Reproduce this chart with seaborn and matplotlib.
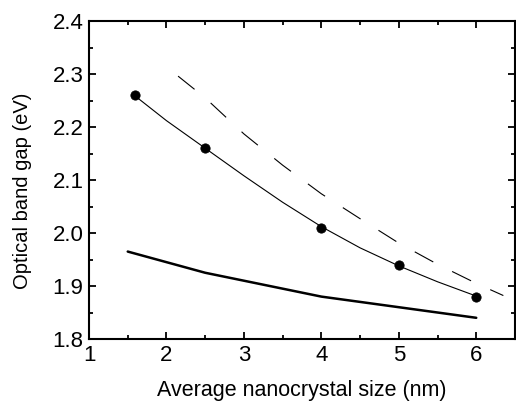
import matplotlib
matplotlib.use("Agg")
import matplotlib.pyplot as plt
import seaborn as sns
from matplotlib.ticker import MultipleLocator

# Measured data points
size_pts = [1.6, 2.5, 4.0, 5.0, 6.0]
gap_pts = [2.26, 2.16, 2.01, 1.94, 1.88]

# Thin fit curve through the data
fit_x = [1.6, 2.0, 2.5, 3.0, 3.5, 4.0, 4.5, 5.0, 5.5, 6.0]
fit_y = [2.258, 2.212, 2.160, 2.108, 2.058, 2.012, 1.972, 1.938, 1.908, 1.881]

# Dashed theoretical curve
dash_x = [2.15, 2.5, 3.0, 3.5, 4.0, 4.5, 5.0, 5.5, 6.0, 6.35]
dash_y = [2.296, 2.255, 2.187, 2.128, 2.074, 2.027, 1.981, 1.941, 1.905, 1.882]

# Thick theoretical curve
thick_x = [1.5, 2.0, 2.5, 3.0, 3.5, 4.0, 4.5, 5.0, 5.5, 6.0]
thick_y = [1.965, 1.945, 1.925, 1.91, 1.895, 1.88, 1.87, 1.86, 1.85, 1.84]

sns.set_style("ticks")
plt.rcParams['font.family'] = ['Liberation Sans', 'DejaVu Sans']
plt.rcParams.update({'text.color': 'black', 'axes.labelcolor': 'black',
                     'xtick.color': 'black', 'ytick.color': 'black',
                     'axes.edgecolor': 'black'})

fig = plt.figure(figsize=(5.16, 4.01), dpi=100)
ax = fig.add_axes([0.1725, 0.1546, 0.8255, 0.793])

sns.lineplot(x=fit_x, y=fit_y, ax=ax, color='black', lw=0.8)
sns.lineplot(x=dash_x, y=dash_y, ax=ax, color='black', lw=0.8)
ax.lines[-1].set_dashes([19, 19])
sns.lineplot(x=thick_x, y=thick_y, ax=ax, color='black', lw=1.8)
sns.scatterplot(x=size_pts, y=gap_pts, ax=ax, color='black', s=45, edgecolor='black', zorder=5)

ax.set_xlim(1, 6.5)
ax.set_ylim(1.8, 2.4)
ax.set_xticks([1, 2, 3, 4, 5, 6])
ax.set_xticklabels(['1', '2', '3', '4', '5', '6'])
ax.set_yticks([1.8, 1.9, 2.0, 2.1, 2.2, 2.3, 2.4])
ax.set_yticklabels(['1.8', '1.9', '2.0', '2.1', '2.2', '2.3', '2.4'])
ax.xaxis.set_minor_locator(MultipleLocator(0.5))
ax.yaxis.set_minor_locator(MultipleLocator(0.05))

ax.tick_params(which='both', direction='in', top=True, right=True, labelsize=16, width=1.3,
               colors='black')
ax.tick_params(which='major', length=5, pad=4)
ax.tick_params(which='minor', length=3)
for s in ax.spines.values():
    s.set_linewidth(1.5)
    s.set_color('black')
    s.set_visible(True)

ax.set_xlabel('Average nanocrystal size (nm)', fontsize=15.5, labelpad=10.5)
ax.set_ylabel('Optical band gap (eV)', fontsize=14.5)
ax.yaxis.set_label_coords(-0.135, 0.465)

fig.savefig('out.png', dpi=100)
